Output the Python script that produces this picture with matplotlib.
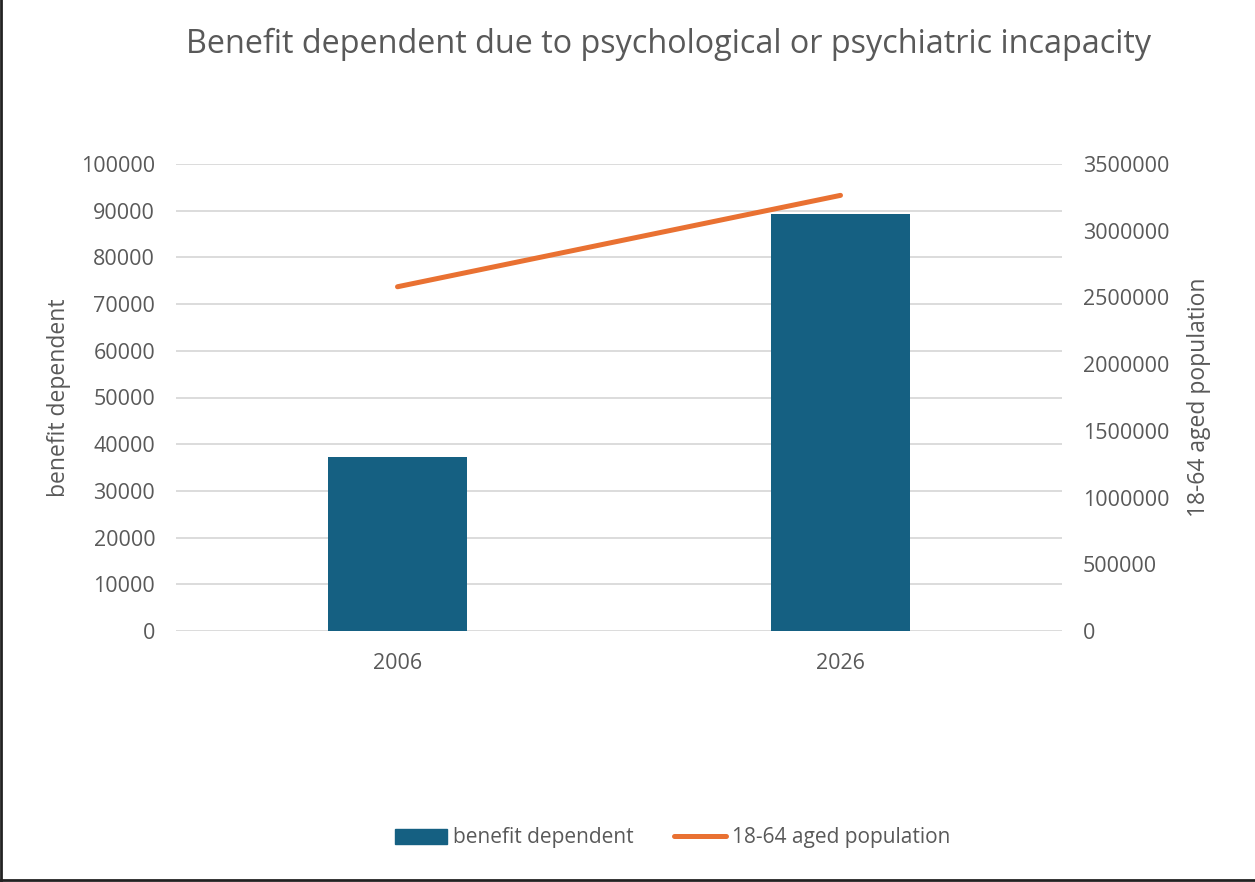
import numpy as np
import matplotlib.pyplot as plt
from matplotlib.lines import Line2D
from matplotlib.ticker import StrMethodFormatter

years = ['2006', '2026']
benefit_dependent = [37300, 89300]
population_18_64 = [2580000, 3265000]

TXT = '#595959'
plt.rcParams['font.family'] = ['Open Sans', 'DejaVu Sans']

fig = plt.figure(figsize=(12.55, 8.82), dpi=100)
ax = fig.add_axes([176/1255, 1-631/882, 886/1255, 467/882])
ax2 = ax.twinx()

x = np.arange(len(years))
ax.bar(x, benefit_dependent, width=0.314, color='#156082', zorder=2,
       label='benefit dependent')
ax2.plot(x, population_18_64, color='#E97132', lw=3.6, solid_capstyle='round',
         label='18-64 aged population')

ax.set_xlim(-0.5, 1.5)
ax.set_ylim(0, 100000)
ax.set_yticks(np.arange(0, 100001, 10000))
ax2.set_ylim(0, 3500000)
ax2.set_yticks(np.arange(0, 3500001, 500000))
ax2.yaxis.set_major_formatter(StrMethodFormatter('{x:.0f}'))
ax.set_xticks(x)
ax.set_xticklabels(years)

ax.grid(axis='y', color='#d9d9d9', lw=1.3, zorder=0)
ax.set_axisbelow(True)
for a in (ax, ax2):
    for s in a.spines.values():
        s.set_visible(False)
    a.tick_params(length=0, labelsize=15.5, colors=TXT)
ax.tick_params(axis='y', pad=15)
ax.tick_params(axis='x', pad=16)
ax2.tick_params(axis='y', pad=15)

ax.set_ylabel('benefit dependent', fontsize=16.5, color=TXT)
ax.yaxis.set_label_coords(-0.119, 0.5)
ax2.set_ylabel('18-64 aged population', fontsize=16.5, color=TXT, rotation=90)
ax2.yaxis.set_label_coords(1.141, 0.5)

fig.text(0.533, 1-44/882, 'Benefit dependent due to psychological or psychiatric incapacity',
         ha='center', va='center', fontsize=23.3, color=TXT)

handles = [plt.Rectangle((0, 0), 1, 1, color='#156082'),
           Line2D([0], [0], color='#E97132', lw=3.6, solid_capstyle='round')]
fig.legend(handles, ['benefit dependent', '18-64 aged population'],
           loc='center', bbox_to_anchor=(0.536, 1-838/882), ncol=2, frameon=False,
           fontsize=15, labelcolor=TXT, handlelength=2.5, handleheight=0.7,
           columnspacing=1.9, handletextpad=0.3)

# frame edge left and bottom
fig.add_artist(Line2D([0.001, 0.001], [0, 1], color='#222222', lw=2, transform=fig.transFigure))
fig.add_artist(Line2D([0, 1], [0.002, 0.002], color='#222222', lw=2, transform=fig.transFigure))

fig.savefig('out.png', dpi=100)
